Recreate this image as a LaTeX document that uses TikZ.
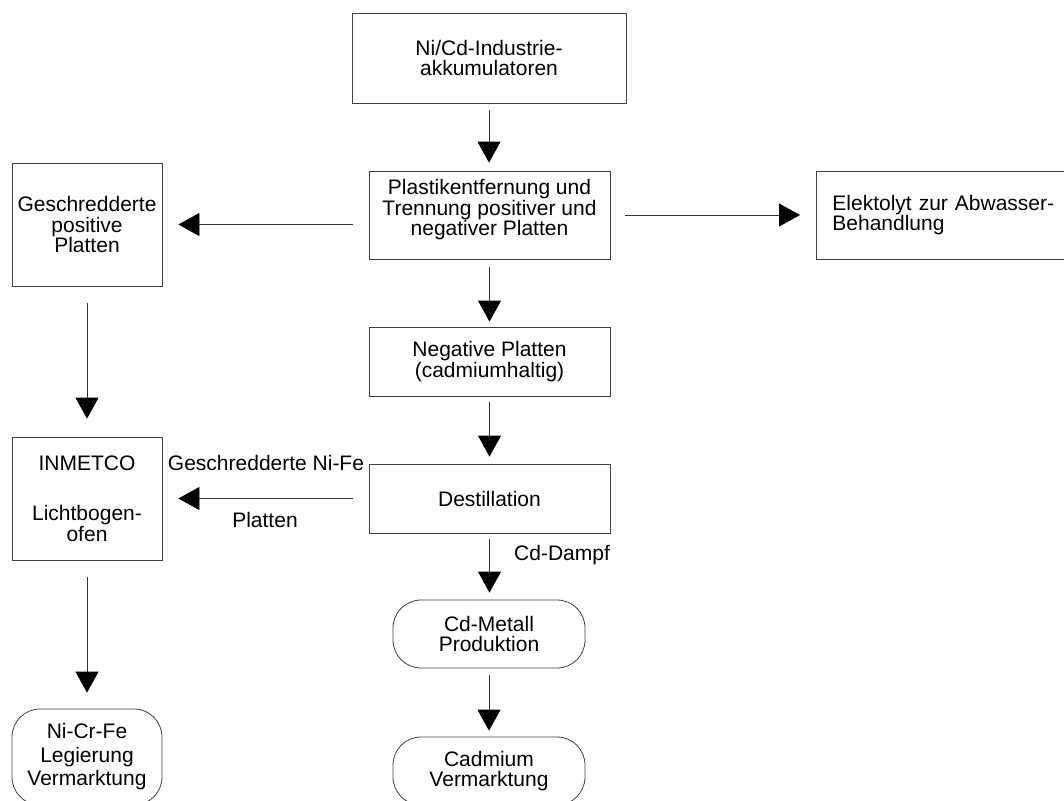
\documentclass[tikz,border=0pt]{standalone}
\usepackage{fontspec}
\setmainfont{Liberation Sans}
\usetikzlibrary{arrows.meta}
\begin{document}
\begin{tikzpicture}[x=1pt,y=-1pt,
  box/.style={draw=black!75, line width=0.8pt, align=center, inner sep=0pt,
              font=\fontsize{21}{20.5}\selectfont},
  rbox/.style={box, rounded corners=28pt},
  arr/.style={draw=black!80, line width=0.8pt, -{Triangle[length=21pt,width=23pt,color=black]}},
  lbl/.style={font=\fontsize{21}{20}\selectfont, inner sep=0pt}]
\useasboundingbox (0,0) rectangle (1064,800);

\node[box, minimum width=274pt, minimum height=90pt] (akku) at (489,58)
  {Ni/Cd-Industrie-\\akkumulatoren};
\node[box, minimum width=241pt, minimum height=88pt] (plastik) at (489.5,215)
  {Plastikentfernung und\\Trennung positiver und\\negativer Platten\\[-6pt]};
\node[box, minimum width=150pt, minimum height=123pt] (geschr) at (87,224.5)
  {Geschredderte\\positive\\Platten};
\node[box, align=left, text width=235pt, inner xsep=16pt, minimum height=88pt, anchor=west] (elekt) at (816,215)
  {Elektolyt zur Abwasser-\\Behandlung};
\node[box, minimum width=241pt, minimum height=69pt] (neg) at (489.5,361.5)
  {Negative Platten\\(cadmiumhaltig)};
\node[box, minimum width=241pt, minimum height=69pt] (dest) at (489.5,498.5)
  {Destillation};
\node[box, minimum width=150pt, minimum height=123pt] (inmet) at (87,498.5)
  {INMETCO\\[30pt]Lichtbogen-\\ofen};
\node[rbox, minimum width=192pt, minimum height=68pt] (cdm) at (489,634)
  {Cd-Metall\\Produktion};
\node[rbox, minimum width=192pt, minimum height=68pt] (cad) at (489,771)
  {Cadmium\\Vermarktung};
\node[rbox, minimum width=150pt, minimum height=96pt, font=\fontsize{21}{23.5}\selectfont] (nicr) at (87,757)
  {Ni-Cr-Fe\\Legierung\\Vermarktung};

\draw[arr, shorten <=7pt, shorten >=8pt] (akku.south) -- (akku.south |- plastik.north);
\draw[arr, shorten <=16pt, shorten >=16pt] (plastik.west |- geschr.east) -- (geschr.east);
\draw[arr, shorten <=15pt, shorten >=16pt] (plastik.east) -- (elekt.west);
\draw[arr, shorten <=8pt, shorten >=5pt] (plastik.south) -- (neg.north);
\draw[arr, shorten <=17pt, shorten >=18pt] (geschr.south) -- (inmet.north);
\draw[arr, shorten <=6pt, shorten >=7pt] (neg.south) -- (dest.north);
\draw[arr, shorten <=16pt, shorten >=16pt] (dest.west) -- (inmet.east);
\draw[arr, shorten <=6pt, shorten >=7pt] (dest.south) -- (dest.south |- cdm.north);
\draw[arr, shorten <=7pt, shorten >=6pt] (cdm.south) -- (cad.north);
\draw[arr, shorten <=17pt, shorten >=16pt] (inmet.south) -- (nicr.north);

\node[lbl, anchor=base] (lnife) at (266,470.5) {Geschredderte Ni-Fe};
\node[lbl, anchor=base] (lplat) at (265,527.5) {Platten};
\node[lbl, anchor=base west] (ldampf) at (514,560.5) {Cd-Dampf};
\end{tikzpicture}
\end{document}
